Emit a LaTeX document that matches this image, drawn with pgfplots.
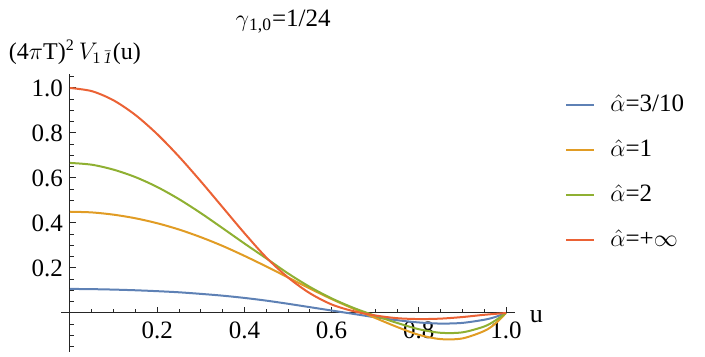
\documentclass[border=0pt]{standalone}
\usepackage{pgfplots}
\pgfplotsset{compat=1.18}
\usepackage{fontspec}
\setmainfont{Liberation Serif}
\definecolor{mblue}{rgb}{0.368417,0.506779,0.709798}
\definecolor{morange}{rgb}{0.880722,0.611041,0.142051}
\definecolor{mgreen}{rgb}{0.560181,0.691569,0.194885}
\definecolor{mred}{rgb}{0.922526,0.385626,0.209179}
\begin{document}
\begin{tikzpicture}
\begin{axis}[
  x=218pt, y=112.5pt,
  xmin=-0.02, xmax=1.02, ymin=-0.173, ymax=1.06,
  axis lines=middle,
  clip mode=individual,
  axis line style={-, black!85, line width=0.5pt},
  tick align=inside,
  tick style={black!85, line width=0.5pt},
  major tick length=3.2pt, minor tick length=1.8pt,
  xtick={0.2,0.4,0.6,0.8,1.0},
  ytick={0.2,0.4,0.6,0.8,1.0},
  minor xtick={0.05,0.1,0.15,0.25,0.3,0.35,0.45,0.5,0.55,0.65,0.7,0.75,0.85,0.9,0.95},
  minor ytick={-0.15,-0.1,-0.05,0.05,0.1,0.15,0.25,0.3,0.35,0.45,0.5,0.55,0.65,0.7,0.75,0.85,0.9,0.95,1.05},
  tick label style={font=\fontsize{12.5}{13}\selectfont},
  /pgf/number format/.cd, fixed, fixed zerofill, precision=1, assume math mode=true,
  /pgfplots/.cd,
  xticklabel style={yshift=-1pt},
  xlabel={u},
  every axis x label/.style={at={(axis cs:1.02,0)}, anchor=west, xshift=4pt, yshift=-2pt, font=\fontsize{13}{14}\selectfont},
  ylabel={(4$\pi$T)\textsuperscript{2}\,$V_{1\,\bar{\mathit{1}}}$(u)},
  every axis y label/.style={at={(rel axis cs:-0.131,1.081)}, anchor=west, font=\fontsize{12}{13}\selectfont},
  legend cell align=left,
  legend style={at={(rel axis cs:1.111,0.933)}, anchor=north west, draw=none, fill=none,
    inner sep=0pt, row sep=10.5pt, font=\fontsize{12.5}{13}\selectfont,
    nodes={inner sep=0pt, text height=9pt, text depth=3pt}},
  legend image code/.code={\draw[#1] (0pt,0pt) -- (14pt,0pt);},
  /tikz/every odd column/.append style={column sep=7.5pt},
  every axis plot/.append style={line width=1pt, smooth},
]
\coordinate (O) at (axis cs:0,0);
\node[font=\fontsize{12.5}{13}\selectfont] at (axis cs:0.489,1.295) {$\gamma$\textsubscript{1,0}=1/24};
\addplot[mblue] coordinates {
(0,0.107)(0.05,0.106)(0.10,0.104)(0.15,0.101)(0.20,0.097)(0.25,0.092)(0.30,0.085)(0.35,0.077)(0.40,0.067)(0.45,0.055)(0.50,0.041)(0.55,0.026)(0.60,0.011)(0.65,-0.004)(0.70,-0.019)(0.75,-0.032)(0.80,-0.042)(0.85,-0.047)(0.90,-0.044)(0.95,-0.030)(0.975,-0.018)(1.0,0)};
\addlegendentry{$\hat{\alpha}$=3/10}
\addplot[morange] coordinates {
(0,0.450)(0.05,0.447)(0.10,0.437)(0.15,0.421)(0.20,0.399)(0.25,0.371)(0.30,0.337)(0.35,0.298)(0.40,0.254)(0.45,0.207)(0.50,0.158)(0.55,0.109)(0.60,0.062)(0.65,0.019)(0.70,-0.022)(0.75,-0.062)(0.80,-0.097)(0.85,-0.116)(0.90,-0.113)(0.95,-0.080)(0.975,-0.048)(1.0,0)};
\addlegendentry{$\hat{\alpha}$=1}
\addplot[mgreen] coordinates {
(0,0.667)(0.05,0.659)(0.10,0.637)(0.15,0.604)(0.20,0.560)(0.25,0.506)(0.30,0.444)(0.35,0.377)(0.40,0.309)(0.45,0.243)(0.50,0.176)(0.55,0.116)(0.60,0.065)(0.65,0.023)(0.70,-0.012)(0.75,-0.044)(0.80,-0.072)(0.85,-0.088)(0.90,-0.086)(0.95,-0.060)(0.975,-0.034)(1.0,0)};
\addlegendentry{$\hat{\alpha}$=2}
\addplot[mred] coordinates {
(0,1.000)(0.05,0.986)(0.10,0.945)(0.15,0.880)(0.20,0.795)(0.25,0.695)(0.30,0.585)(0.35,0.470)(0.40,0.355)(0.45,0.247)(0.50,0.158)(0.55,0.088)(0.60,0.038)(0.65,0.008)(0.70,-0.011)(0.75,-0.023)(0.80,-0.027)(0.85,-0.025)(0.90,-0.018)(0.95,-0.008)(1.0,0)};
\addlegendentry{$\hat{\alpha}$=+$\infty$}
\end{axis}
\pgfresetboundingbox
\path (O) ++(-35pt,-22pt) rectangle ++(352.5pt,178.5pt);
\end{tikzpicture}
\end{document}
